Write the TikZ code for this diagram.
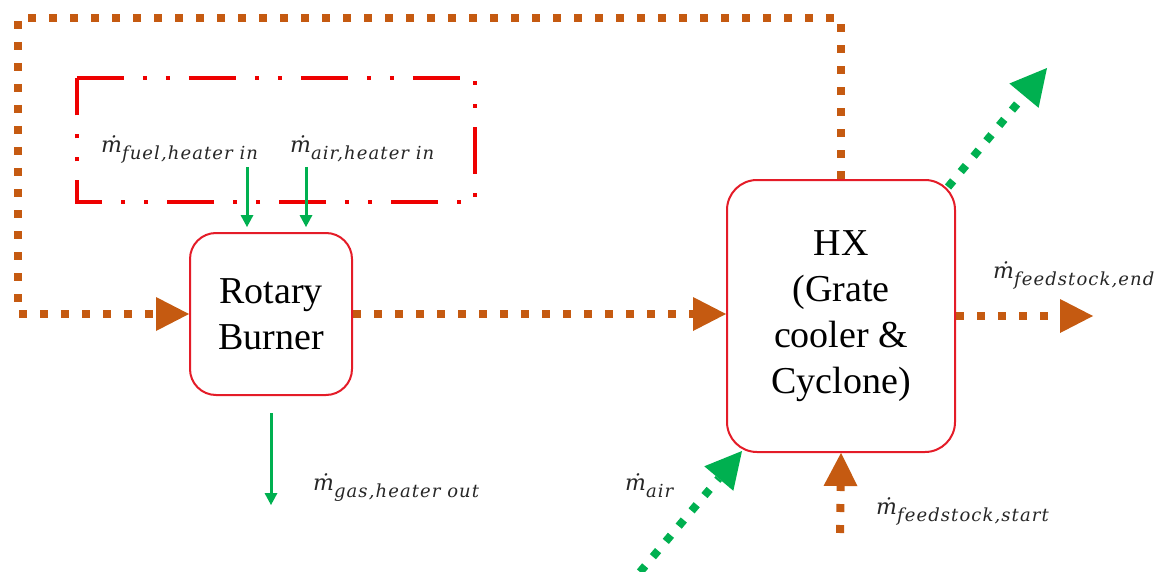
\documentclass[tikz,border=0pt]{standalone}
\usepackage{fontspec}
\setmainfont{Liberation Serif}
\newfontfamily\subfont{DejaVu Serif}[LetterSpace=6]
\newfontfamily\mfont{DejaVu Serif}
\usetikzlibrary{arrows.meta,calc}
\definecolor{orng}{RGB}{197,90,17}
\definecolor{grn}{RGB}{0,176,80}
\definecolor{rd}{RGB}{238,0,0}
\definecolor{boxred}{RGB}{228,28,40}
\newcommand\flow[1]{{\fontsize{22}{24}\mfont\itshape ṁ}\raisebox{-7pt}{\fontsize{18}{20}\subfont\itshape #1}}
\begin{document}
\begin{tikzpicture}[x=1pt,y=-1pt,
  procbox/.style={draw=boxred, line width=2pt, rounded corners=26pt, fill=white, align=center,
    font=\fontsize{38}{46}\selectfont, inner sep=0pt},
  feed/.style={draw=orng, line width=8pt, dash pattern=on 8pt off 13pt},
  feedtip/.style={-{Triangle[length=33pt,width=34pt,line width=0pt]}},
  airflow/.style={draw=grn, line width=8pt, dash pattern=on 8pt off 12pt,
    -{Triangle[length=36pt,width=38pt,line width=0pt]}},
  gline/.style={draw=grn, line width=3pt, -{Triangle[length=12pt,width=13pt,line width=0pt]}},
  lbl/.style={inner sep=0pt, anchor=base west, text=black!85},
  frame/.style={draw=rd, line width=4pt, dash pattern=on 47pt off 19pt on 4pt off 19pt on 4pt off 19pt}
]
\useasboundingbox (0,0) rectangle (1155,572);

% process boxes
\node[procbox, minimum width=162pt, minimum height=162pt] (rb) at (271,314) {Rotary\\Burner};
\node[procbox, minimum width=228pt, minimum height=272pt, rounded corners=30pt] (hx) at (841,316)
  {HX\\(Grate\\cooler \&\\Cyclone)};

% heater dash-dot frame
\node[minimum width=398pt, minimum height=124pt, inner sep=0pt] (heater) at (276,140) {};
\draw[frame] (heater.north west) -- (heater.north east) -- (heater.south east)
  -- (heater.south west) -- cycle;

% labels
\node[lbl] (fuel) at (101,153) {\flow{fuel,heater in}};
\node[lbl] (airh) at (290,153) {\flow{air,heater in}};
\node[lbl] (gas) at (313,490) {\flow{gas,heater out}};
\node[lbl] (fend) at (993,278) {\flow{feedstock,end}};
\node[lbl] (air) at (625,490) {\flow{air}};
\node[lbl] (fstart) at (876,514) {\flow{feedstock,start}};

% coordinates
\coordinate (lt) at (18,18);
\coordinate (fuelin) at (247,167);
\coordinate (airin) at (306,167);
\coordinate (gasout) at (271,505);
\coordinate (fendtip) at (1093,316);
\coordinate (fsrc) at (840,533);
\coordinate (exhaust) at (1047,68);
\coordinate (airsrc) at (640,572);

% orange feedstock loop
\draw[feed, feedtip] (hx.north) -- (hx.north |- lt) -- (lt) |- (rb.west);
\draw[feed, feedtip] (rb.east) -- (rb.east -| hx.west);
\draw[feed, feedtip] (hx.east) -- (fendtip);
\draw[feed, feedtip] (fsrc) -- (hx.south);

% green air flows
\draw[airflow] ($(hx.north east)+(-8,8)$) -- (exhaust);
\draw[airflow] (airsrc) -- ($(hx.south west)+(16,-2)$);

% thin green arrows
\draw[gline] (fuelin) -- ($(rb.north -| fuelin)+(0,-5)$);
\draw[gline] (airin) -- ($(rb.north -| airin)+(0,-5)$);
\draw[gline] ($(rb.south)+(0,17)$) -- (gasout);
\end{tikzpicture}
\end{document}
